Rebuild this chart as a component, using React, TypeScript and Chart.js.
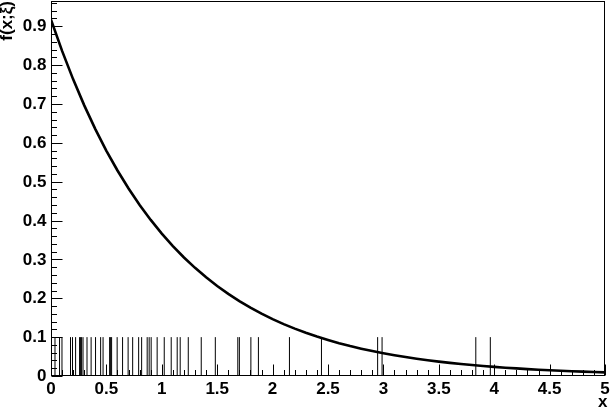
import React, { useEffect, useRef } from "react";
import { Chart, registerables } from "chart.js";

Chart.register(...registerables);

// Curve samples f(x;ξ) at x = 0, 0.1, ..., 5
const curveX = [
  0, 0.1, 0.2, 0.3, 0.4, 0.5, 0.6, 0.7, 0.8, 0.9, 1.0, 1.1, 1.2, 1.3, 1.4, 1.5, 1.6, 1.7, 1.8, 1.9, 2.0,
  2.1, 2.2, 2.3, 2.4, 2.5, 2.6, 2.7, 2.8, 2.9, 3.0, 3.1, 3.2, 3.3, 3.4, 3.5, 3.6, 3.7, 3.8, 3.9, 4.0,
  4.1, 4.2, 4.3, 4.4, 4.5, 4.6, 4.7, 4.8, 4.9, 5.0,
];
const curveY = [
  0.917, 0.8366, 0.7633, 0.6964, 0.6353, 0.5796, 0.5288, 0.4825, 0.4402, 0.4016, 0.3664, 0.3343, 0.305,
  0.2783, 0.2539, 0.2316, 0.2113, 0.1928, 0.1759, 0.1605, 0.1464, 0.1336, 0.1219, 0.1112, 0.1014, 0.0926,
  0.0844, 0.077, 0.0703, 0.0641, 0.0585, 0.0534, 0.0487, 0.0444, 0.0405, 0.037, 0.0337, 0.0308, 0.0281,
  0.0256, 0.0234, 0.0213, 0.0195, 0.0178, 0.0162, 0.0148, 0.0135, 0.0123, 0.0112, 0.0102, 0.0093,
];

// Rug: positions of the individual data points (drawn from 0 to rugHeight)
const rugX = [
  0.036, 0.077, 0.099, 0.176, 0.194, 0.222, 0.258, 0.267, 0.276, 0.289, 0.325, 0.362, 0.402, 0.448, 0.47,
  0.529, 0.538, 0.547, 0.597, 0.646, 0.696, 0.737, 0.791, 0.818, 0.868, 0.886, 0.904, 0.958, 1.022, 1.085,
  1.139, 1.166, 1.239, 1.356, 1.483, 1.686, 1.7, 1.804, 1.872, 2.152, 2.441, 2.948, 2.988, 3.834, 3.965,
];
const rugHeight = 0.1;

const xMin = 0;
const xMax = 5;
const yMin = 0;
const yMax = 0.965;
const xMajorTicks = [0, 0.5, 1, 1.5, 2, 2.5, 3, 3.5, 4, 4.5, 5];
const xTickLabels = ["0", "0.5", "1", "1.5", "2", "2.5", "3", "3.5", "4", "4.5", "5"];
const yMajorTicks = [0, 0.1, 0.2, 0.3, 0.4, 0.5, 0.6, 0.7, 0.8, 0.9];
const yTickLabels = ["0", "0.1", "0.2", "0.3", "0.4", "0.5", "0.6", "0.7", "0.8", "0.9"];
const xTitle = "x";
const yTitle = "f(x;ξ)";

const FONT = '"Liberation Sans", Arial, Helvetica, sans-serif';

const rootAxesPlugin = {
  id: "rootAxes",
  afterDraw(chart: any) {
    const { ctx, chartArea } = chart;
    const xs = chart.scales.x;
    const ys = chart.scales.y;
    const L = Math.round(chartArea.left) + 0.5;
    const R = Math.round(chartArea.right) - 0.5;
    const T = Math.round(chartArea.top) + 0.5;
    const B = Math.round(chartArea.bottom) - 0.5;
    ctx.save();
    ctx.strokeStyle = "#000";
    ctx.lineWidth = 1;
    ctx.strokeRect(L, T, R - L, B - T);

    // x ticks: minor every 0.1, major every 0.5
    ctx.beginPath();
    for (let i = 0; i <= 50; i++) {
      const v = i / 10;
      const px = Math.round(xs.getPixelForValue(v)) + 0.5;
      const len = i % 5 === 0 ? 11 : 5.5;
      ctx.moveTo(px, B);
      ctx.lineTo(px, B - len);
    }
    // y ticks: minor every 0.02, major every 0.1
    for (let i = 0; i <= 48; i++) {
      const v = i / 50;
      if (v > yMax) break;
      const py = Math.round(ys.getPixelForValue(v)) + 0.5;
      const len = i % 5 === 0 ? 11 : 5.5;
      ctx.moveTo(L, py);
      ctx.lineTo(L + len, py);
    }
    ctx.stroke();

    ctx.fillStyle = "#000";
    ctx.font = `bold 17px ${FONT}`;
    ctx.textAlign = "center";
    ctx.textBaseline = "middle";
    xMajorTicks.forEach((v, i) => {
      ctx.fillText(xTickLabels[i], xs.getPixelForValue(v), B + 14);
    });
    ctx.textAlign = "right";
    yMajorTicks.forEach((v, i) => {
      ctx.fillText(yTickLabels[i], L - 5, ys.getPixelForValue(v) + 0.5);
    });

    // axis titles
    ctx.textAlign = "right";
    ctx.fillText(xTitle, R + 3, B + 27);
    ctx.save();
    ctx.translate(7, 1);
    ctx.rotate(-Math.PI / 2);
    ctx.textAlign = "right";
    ctx.textBaseline = "middle";
    ctx.fillText(yTitle, 0, 0);
    ctx.restore();
    ctx.restore();
  },
};

export default function App() {
  const ref = useRef<HTMLCanvasElement | null>(null);
  useEffect(() => {
    if (!ref.current) return;
    const rugData: any[] = [];
    rugX.forEach((x) => {
      rugData.push({ x, y: 0 });
      rugData.push({ x, y: rugHeight });
      rugData.push({ x, y: null });
    });
    const chart = new Chart(ref.current, {
      type: "line",
      data: {
        datasets: [
          {
            label: "rug",
            data: rugData,
            borderColor: "#000",
            borderWidth: 1,
            pointRadius: 0,
            spanGaps: false,
            tension: 0,
          },
          {
            label: "f",
            data: curveX.map((x, i) => ({ x, y: curveY[i] })),
            borderColor: "#000",
            borderWidth: 2.6,
            pointRadius: 0,
            tension: 0,
          },
        ],
      },
      options: {
        animation: false,
        responsive: false,
        devicePixelRatio: 1,
        layout: { padding: { left: 51, right: 7, top: 1, bottom: 36 } },
        plugins: { legend: { display: false }, tooltip: { enabled: false } },
        scales: {
          x: { type: "linear", min: xMin, max: xMax, display: false },
          y: { type: "linear", min: yMin, max: yMax, display: false },
        },
      },
      plugins: [rootAxesPlugin],
    });
    return () => chart.destroy();
  }, []);
  return (
    <div style={{ position: "absolute", left: 0, top: 0, width: 612, height: 412, background: "#fff" }}>
      <canvas ref={ref} width={612} height={412} />
    </div>
  );
}
